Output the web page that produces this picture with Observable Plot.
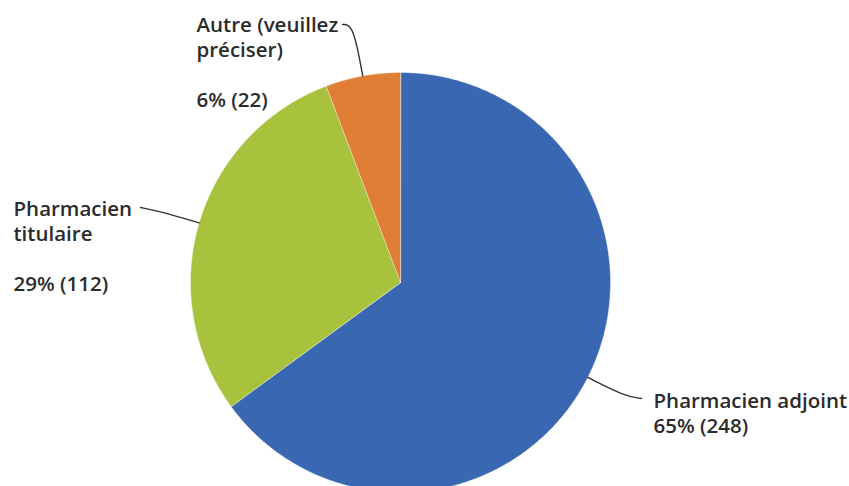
<!DOCTYPE html>
<html><head><meta charset="utf-8">
<script src="https://cdn.jsdelivr.net/npm/d3@7"></script>
<script src="https://cdn.jsdelivr.net/npm/@observablehq/plot@0.6"></script>
<style>body{margin:0;background:#fff}</style>
</head><body><div id="chart"></div>
<script>
// ---- data ----
const categories = ["Pharmacien adjoint", "Pharmacien titulaire", "Autre (veuillez préciser)"];
const counts = [248, 112, 22];
const percents = [65, 29, 6];
const labelNames = ["Pharmacien adjoint", "Pharmacien\ntitulaire\n", "Autre (veuillez\npréciser)\n"];
const colors = ["#3a67b1", "#a8c23d", "#e07e35"];

// ---- layout ----
const W = 849, H = 486, CX = 400, CY = 282, R = 210;
const labelLayout = [
  {tx: 653, ty: 389.5, lx: 641, ly: 398, elbow: 1.2},
  {tx: 13, ty: 198, lx: 140, ly: 207, elbow: 1.2},
  {tx: 196, ty: 14, lx: 342, ly: 24, elbow: 1.25}
];

const px = (a, k) => CX + R * k * Math.sin(a);
const py = (a, k) => CY - R * k * Math.cos(a);

const arcs = d3.pie().sort(null)(counts);

// slice outlines
const slicePts = [];
arcs.forEach((arc, i) => {
  const name = categories[i];
  slicePts.push({name, x: CX, y: CY});
  const n = Math.max(2, Math.ceil((arc.endAngle - arc.startAngle) / (Math.PI / 360)));
  for (let j = 0; j <= n; ++j) {
    const a = arc.startAngle + (arc.endAngle - arc.startAngle) * j / n;
    slicePts.push({name, x: px(a, 1), y: py(a, 1)});
  }
});

// leader lines
const leaderPts = [];
arcs.forEach((arc, i) => {
  const mid = (arc.startAngle + arc.endAngle) / 2;
  const L = labelLayout[i];
  leaderPts.push({name: categories[i], x: px(mid, 1), y: py(mid, 1)});
  leaderPts.push({name: categories[i], x: px(mid, L.elbow), y: py(mid, L.elbow)});
  leaderPts.push({name: categories[i], x: L.lx, y: L.ly});
});

const labels = categories.map((c, i) => ({
  x: labelLayout[i].tx,
  y: labelLayout[i].ty,
  text: `${labelNames[i]}\n${percents[i]}% (${counts[i]})`
}));

const chart = Plot.plot({
  width: W, height: H, margin: 0,
  x: {domain: [0, W], range: [0, W], axis: null},
  y: {domain: [0, H], range: [0, H], axis: null},
  color: {domain: categories, range: colors},
  style: {fontFamily: "'Open Sans', sans-serif", background: "#fff"},
  marks: [
    Plot.line(slicePts, {x: "x", y: "y", z: "name", fill: "name", stroke: "#fff", strokeWidth: 0.4, curve: "linear-closed"}),
    Plot.line(leaderPts, {x: "x", y: "y", z: "name", curve: "basis", stroke: "#333", strokeWidth: 1.4}),
    Plot.text(labels, {x: "x", y: "y", text: "text", textAnchor: "start", lineAnchor: "top",
      fontSize: 20.5, lineHeight: 1.22, fontWeight: 600, fill: "#2b2b2b"})
  ]
});
document.getElementById("chart").appendChild(chart);
</script>
</body></html>
